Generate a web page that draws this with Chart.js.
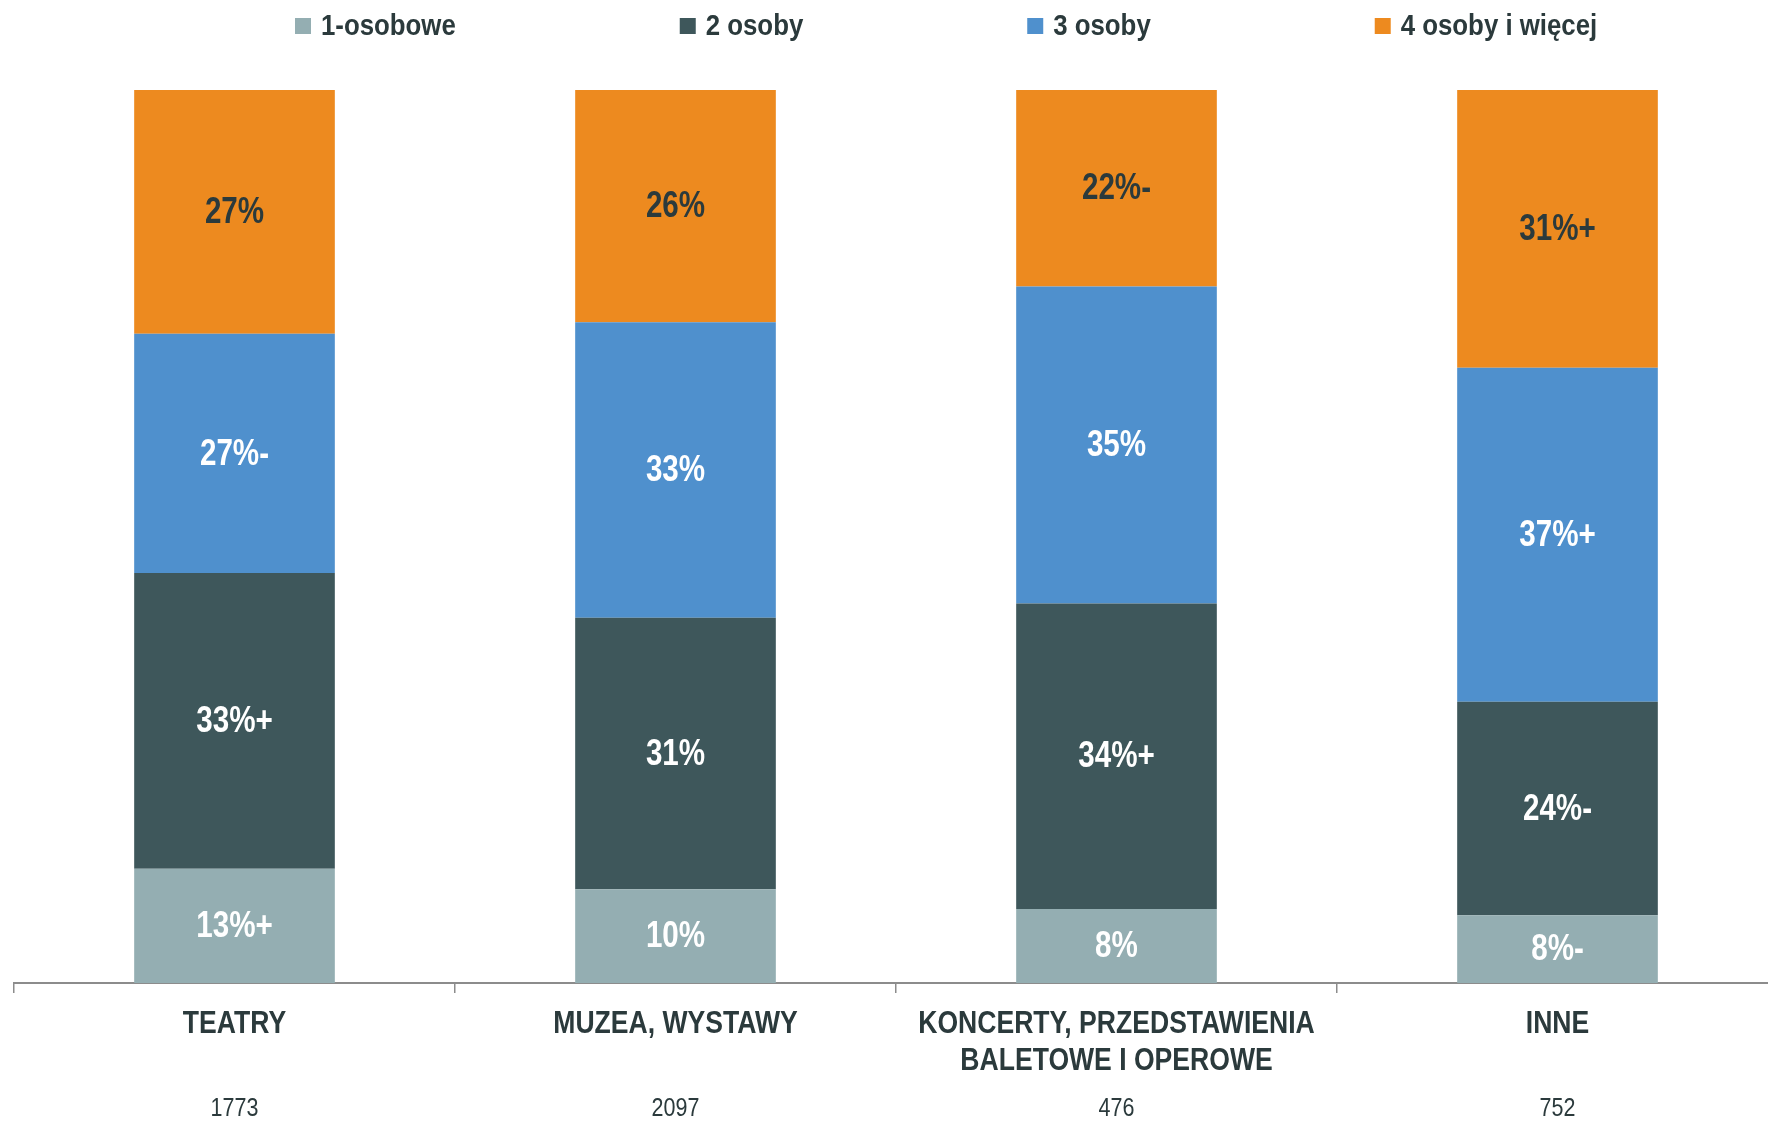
<!DOCTYPE html>
<html>
<head>
<meta charset="utf-8">
<script src="https://cdn.jsdelivr.net/npm/chart.js@4.4.1/dist/chart.umd.min.js"></script>
<style>
  html, body { margin: 0; padding: 0; background: #fff; overflow: hidden; }
  #wrap { width: 1778px; height: 1123px; }
</style>
</head>
<body>
<div id="wrap"><canvas id="myChart"></canvas></div>
<script>
// dane z wykresu
const categories = [['TEATRY'], ['MUZEA, WYSTAWY'], ['KONCERTY, PRZEDSTAWIENIA', 'BALETOWE I OPEROWE'], ['INNE']];
const counts = ['1773', '2097', '476', '752'];
const seriesNames = ['1-osobowe', '2 osoby', '3 osoby', '4 osoby i więcej'];
const jedna = [12.8, 10.5, 8.3, 7.6];
const dwie = [33.1, 30.4, 34.2, 23.9];
const trzy = [26.8, 33.1, 35.5, 37.4];
const cztery = [27.3, 26.0, 22.0, 31.1];
const jednaLabels = ['13%+', '10%', '8%', '8%-'];
const dwieLabels = ['33%+', '31%', '34%+', '24%-'];
const trzyLabels = ['27%-', '33%', '35%', '37%+'];
const czteryLabels = ['27%', '26%', '22%-', '31%+'];

const colors = ['#94aeb2', '#3e575b', '#4f90cd', '#ed8a1f'];
const labelColors = ['#ffffff', '#ffffff', '#ffffff', '#2b3a3c'];
const FONT = '"Liberation Sans", Arial, sans-serif';
const dark = '#2b3a3c';

const values = [jedna, dwie, trzy, cztery];
const texts = [jednaLabels, dwieLabels, trzyLabels, czteryLabels];

// tekst zwezony (jak Arial Narrow)
function narrowText(ctx, txt, x, y, sx, align) {
  ctx.save();
  ctx.translate(x, y);
  ctx.scale(sx, 1);
  ctx.textAlign = align || 'center';
  ctx.fillText(txt, 0, 0);
  ctx.restore();
}

// etykiety na slupkach
const barLabels = {
  id: 'barLabels',
  afterDatasetsDraw(chart) {
    const ctx = chart.ctx;
    ctx.save();
    ctx.font = 'bold 37px ' + FONT;
    ctx.textBaseline = 'middle';
    chart.data.datasets.forEach((ds, i) => {
      chart.getDatasetMeta(i).data.forEach((bar, j) => {
        const p = bar.getProps(['x', 'y', 'base'], true);
        ctx.fillStyle = labelColors[i];
        narrowText(ctx, texts[i][j], p.x, (p.y + p.base) / 2 + 1, 0.8);
      });
    });
    ctx.restore();
  }
};

// opisy kategorii i liczebnosci pod osia
const axisLabels = {
  id: 'axisLabels',
  afterDraw(chart) {
    const ctx = chart.ctx;
    const xs = chart.scales.x;
    const y0 = chart.chartArea.bottom;
    ctx.save();
    ctx.fillStyle = dark;
    ctx.textBaseline = 'middle';
    ctx.font = 'bold 32px ' + FONT;
    categories.forEach((lines, i) => {
      lines.forEach((ln, k) => {
        narrowText(ctx, ln, xs.getPixelForValue(i), y0 + 41 + k * 37, 0.83);
      });
    });
    ctx.font = '25px ' + FONT;
    counts.forEach((c, i) => {
      narrowText(ctx, c, xs.getPixelForValue(i), y0 + 126, 0.86);
    });
    ctx.restore();
  }
};

// legenda u gory
const topLegend = {
  id: 'topLegend',
  afterDraw(chart) {
    const ctx = chart.ctx;
    const sx = 0.86;
    const gap = 224;
    let x = 295;
    const y = 26;
    ctx.save();
    ctx.font = 'bold 30px ' + FONT;
    ctx.textBaseline = 'middle';
    seriesNames.forEach((name, i) => {
      ctx.fillStyle = colors[i];
      ctx.fillRect(x, y - 8, 16, 16);
      ctx.fillStyle = dark;
      narrowText(ctx, name, x + 26, y + 1, sx, 'left');
      x += 26 + ctx.measureText(name).width * sx + gap;
    });
    ctx.restore();
  }
};

new Chart(document.getElementById('myChart').getContext('2d'), {
  type: 'bar',
  data: {
    labels: categories,
    datasets: seriesNames.map((name, i) => ({
      label: name,
      data: values[i],
      backgroundColor: colors[i],
      borderWidth: 0,
      categoryPercentage: 1,
      barPercentage: 0.455
    }))
  },
  options: {
    responsive: true,
    maintainAspectRatio: false,
    animation: false,
    layout: { padding: { left: 14, right: 0, top: 90, bottom: 130 } },
    plugins: {
      legend: { display: false },
      tooltip: { enabled: false }
    },
    scales: {
      x: {
        stacked: true,
        border: { display: true, color: '#8c8c8c', width: 2 },
        grid: { display: true, drawOnChartArea: false, offset: true, tickLength: 10, color: '#8c8c8c', lineWidth: 1.5 },
        ticks: { display: false }
      },
      y: {
        stacked: true,
        display: false,
        min: 0,
        max: 100
      }
    }
  },
  plugins: [barLabels, axisLabels, topLegend]
});
</script>
</body>
</html>
